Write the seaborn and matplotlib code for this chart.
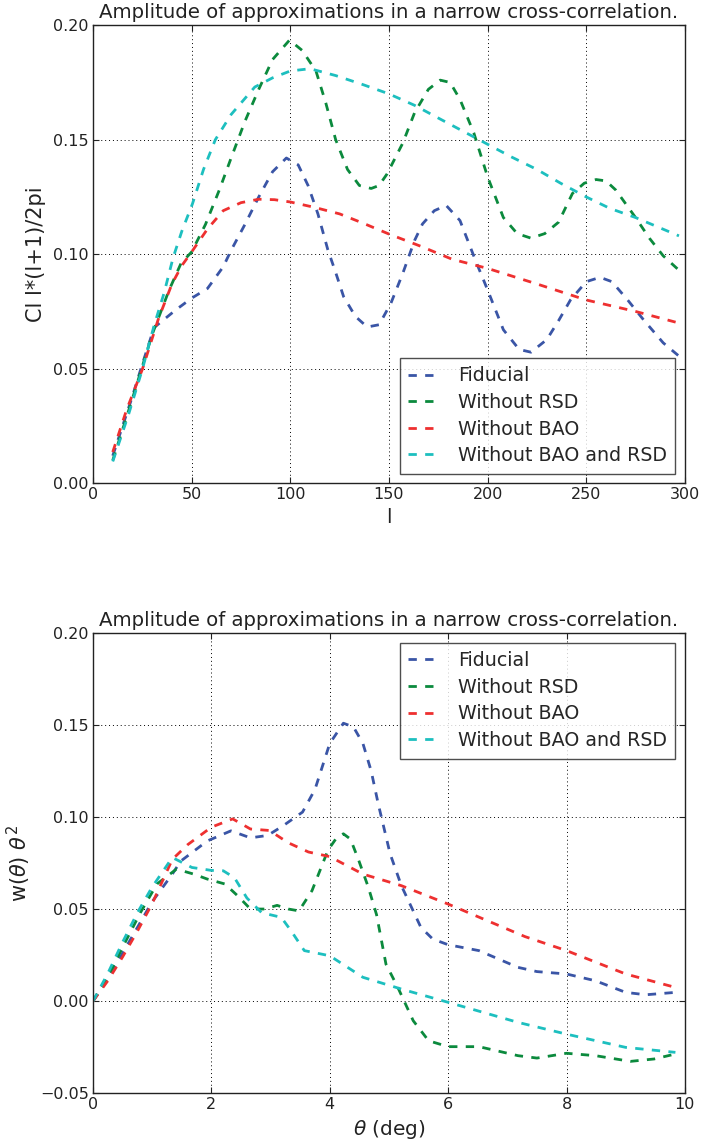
import numpy as np
import pandas as pd
import matplotlib
matplotlib.use("Agg")
import matplotlib.pyplot as plt
import seaborn as sns

# ---------------- data: angular power spectrum (top) ----------------
series_names = ["Fiducial", "Without RSD", "Without BAO", "Without BAO and RSD"]

ell_fid = [10, 20, 25, 31, 42, 50, 58, 66, 70, 77, 84, 91, 98, 104, 109, 114, 119, 123, 127,
           133, 139, 145, 151, 157, 163, 167, 173, 179, 186, 194, 200, 208, 216, 222, 230,
           236, 242, 250, 257, 263, 271, 279, 289, 297]
cl_fid = [0.012, 0.038, 0.052, 0.068, 0.0757, 0.0808, 0.085, 0.0945, 0.1017, 0.113, 0.125,
          0.136, 0.142, 0.139, 0.130, 0.1176, 0.102, 0.092, 0.0815, 0.0728, 0.0682, 0.0692,
          0.0786, 0.0916, 0.106, 0.1132, 0.119, 0.1213, 0.1147, 0.097, 0.0844, 0.067, 0.0584,
          0.0572, 0.0627, 0.071, 0.080, 0.088, 0.0899, 0.088, 0.080, 0.0714, 0.0613, 0.0555]

ell_norsd = [10, 20, 30, 38.6, 44.6, 50, 57, 64, 70, 77, 84, 91, 99.6, 106, 113, 118, 123,
             129, 135, 141, 145, 149, 157, 163, 170, 176, 181, 186, 193, 200, 208, 215, 222,
             229, 236, 243, 249, 255, 260, 265, 275, 282, 289, 297]
cl_norsd = [0.010, 0.037, 0.065, 0.0844, 0.096, 0.101, 0.113, 0.128, 0.142, 0.158, 0.172,
            0.185, 0.1935, 0.189, 0.180, 0.166, 0.150, 0.137, 0.130, 0.1287, 0.130, 0.135,
            0.1485, 0.1618, 0.172, 0.176, 0.175, 0.1676, 0.153, 0.1338, 0.116, 0.109, 0.107,
            0.109, 0.114, 0.1265, 0.131, 0.1326, 0.132, 0.128, 0.116, 0.107, 0.0993, 0.093]

ell_nobao = [10, 17, 25, 33, 40, 45, 50, 58, 66, 75, 84, 92, 100, 112, 125, 137, 150, 166,
             182, 200, 225, 250, 275, 298]
cl_nobao = [0.0136, 0.032, 0.0497, 0.0714, 0.087, 0.095, 0.101, 0.111, 0.119, 0.1225, 0.124,
            0.1238, 0.1228, 0.1205, 0.1176, 0.1135, 0.1088, 0.1035, 0.0978, 0.0938, 0.087,
            0.080, 0.075, 0.0697]

ell_nobaorsd = [10, 18, 25, 31, 36, 40.6, 45, 50.4, 56, 62, 70, 82, 91, 100, 110, 123, 137,
                150, 163, 176, 188, 200, 212, 225, 237, 250, 262, 275, 286, 297]
cl_nobaorsd = [0.0095, 0.030, 0.0497, 0.069, 0.083, 0.0985, 0.110, 0.122, 0.137, 0.150,
               0.161, 0.173, 0.177, 0.180, 0.181, 0.178, 0.174, 0.170, 0.165, 0.159, 0.1535,
               0.148, 0.1425, 0.137, 0.131, 0.125, 0.120, 0.116, 0.112, 0.108]

# ---------------- data: correlation function (bottom) ----------------
th_fid = [0, 0.25, 0.5, 0.75, 1.0, 1.34, 1.48, 1.93, 2.33, 2.66, 2.95, 3.2, 3.54, 3.75, 4.0,
          4.23, 4.4, 4.56, 4.7, 4.82, 5.02, 5.21, 5.54, 5.74, 6.0, 6.52, 7.18, 7.5, 8.0, 8.49,
          9.0, 9.34, 9.84]
w_fid = [0.0, 0.012, 0.026, 0.040, 0.054, 0.069, 0.076, 0.087, 0.0925, 0.0887, 0.090, 0.095,
         0.1027, 0.115, 0.140, 0.151, 0.149, 0.140, 0.125, 0.107, 0.080, 0.0627, 0.040,
         0.0337, 0.0306, 0.0274, 0.0183, 0.016, 0.0147, 0.011, 0.0047, 0.0034, 0.0047]

th_norsd = [0, 0.25, 0.56, 0.8, 1.08, 1.41, 1.7, 1.93, 2.23, 2.45, 2.66, 2.9, 3.11, 3.3, 3.48,
            3.7, 3.97, 4.1, 4.23, 4.35, 4.49, 4.65, 4.79, 4.95, 5.15, 5.41, 5.67, 6.0, 6.52,
            7.18, 7.5, 8.0, 8.49, 9.08, 9.48, 9.84]
w_norsd = [0, 0.013, 0.033, 0.048, 0.0636, 0.0717, 0.069, 0.0663, 0.0636, 0.057, 0.050,
           0.050, 0.052, 0.050, 0.049, 0.060, 0.082, 0.088, 0.0909, 0.088, 0.0764, 0.062,
           0.047, 0.020, 0.0074, -0.0107, -0.0216, -0.0248, -0.0248, -0.0297, -0.031,
           -0.0284, -0.0297, -0.0328, -0.0315, -0.0288]

th_nobao = [0, 0.25, 0.5, 0.75, 1.0, 1.34, 1.6, 2.0, 2.36, 2.66, 2.98, 3.3, 3.64, 4.0, 4.56,
            5.21, 6.0, 6.66, 7.3, 8.0, 9.0, 9.84]
w_nobao = [0, 0.011, 0.024, 0.038, 0.053, 0.077, 0.085, 0.0945, 0.099, 0.0935, 0.0927, 0.086,
           0.081, 0.0785, 0.069, 0.0627, 0.0527, 0.0437, 0.035, 0.0274, 0.0147, 0.0074]

th_nobaorsd = [0, 0.25, 0.5, 0.75, 1.0, 1.34, 1.67, 2.0, 2.2, 2.39, 2.6, 2.85, 3.18, 3.35,
               3.57, 4.0, 4.56, 5.21, 6.0, 7.18, 8.0, 9.0, 9.84]
w_nobaorsd = [0, 0.015, 0.032, 0.048, 0.062, 0.078, 0.0726, 0.071, 0.0708, 0.067, 0.056,
              0.048, 0.0455, 0.038, 0.0274, 0.0246, 0.0129, 0.0065, -0.0007, -0.0116, -0.018,
              -0.0252, -0.0279]

top_xticks = [0, 50, 100, 150, 200, 250, 300]
top_yticks = [0.00, 0.05, 0.10, 0.15, 0.20]
bot_xticks = [0, 2, 4, 6, 8, 10]
bot_yticks = [-0.05, 0.00, 0.05, 0.10, 0.15, 0.20]
title_text = "Amplitude of approximations in a narrow cross-correlation."

colors = ["#3a55a6", "#0b8a3d", "#ee3030", "#1dbfbf"]

top_df = pd.concat([
    pd.DataFrame({"x": ell_fid, "y": cl_fid, "series": series_names[0]}),
    pd.DataFrame({"x": ell_norsd, "y": cl_norsd, "series": series_names[1]}),
    pd.DataFrame({"x": ell_nobao, "y": cl_nobao, "series": series_names[2]}),
    pd.DataFrame({"x": ell_nobaorsd, "y": cl_nobaorsd, "series": series_names[3]}),
])
bot_df = pd.concat([
    pd.DataFrame({"x": th_fid, "y": w_fid, "series": series_names[0]}),
    pd.DataFrame({"x": th_norsd, "y": w_norsd, "series": series_names[1]}),
    pd.DataFrame({"x": th_nobao, "y": w_nobao, "series": series_names[2]}),
    pd.DataFrame({"x": th_nobaorsd, "y": w_nobaorsd, "series": series_names[3]}),
])

sns.set_style("ticks")
plt.rcParams["font.family"] = ["DejaVu Sans"]
plt.rcParams["mathtext.fontset"] = "dejavusans"

fig = plt.figure(figsize=(7.01, 11.45), dpi=100)
ax1 = fig.add_axes([0.1327, 0.578, 0.8443, 0.400])
ax2 = fig.add_axes([0.1327, 0.0454, 0.8443, 0.4017])


def style_axes(ax, xticks, yticks, xlim, ylim, xlabel, ylabel):
    ax.set_xlim(*xlim)
    ax.set_ylim(*ylim)
    ax.set_xticks(xticks)
    ax.set_yticks(yticks)
    ax.set_yticklabels([f"{v:.2f}".replace("-", "\u2212") for v in yticks])
    ax.set_xticklabels([str(v) for v in xticks])
    ax.grid(True, color="black", linestyle=(0, (1, 3)), linewidth=0.7)
    ax.tick_params(direction="in", top=True, right=True, length=4, width=0.8,
                   labelsize=11.5, colors="#222222", pad=3)
    for s in ax.spines.values():
        s.set_color("#222222")
        s.set_linewidth(1.0)
        s.set_visible(True)
    ax.set_xlabel(xlabel, fontsize=14.5, color="#222222")
    ax.set_ylabel(ylabel, fontsize=15, color="#222222", labelpad=5)
    ax.set_title(title_text, fontsize=14.2, color="#222222", pad=5)


for ax, df in [(ax1, top_df), (ax2, bot_df)]:
    sns.lineplot(data=df, x="x", y="y", hue="series", palette=colors, ax=ax,
                 linewidth=2.0, sort=False, estimator=None, legend=True)
    for ln in ax.get_lines():
        ln.set_linestyle((0, (3, 3)))

style_axes(ax1, top_xticks, top_yticks, (0, 300), (0, 0.20), "l", "Cl l*(l+1)/2pi")
style_axes(ax2, bot_xticks, bot_yticks, (0, 10), (-0.05, 0.20),
           r"$\theta$ (deg)", r"w($\theta$) $\theta^2$")

for ax, loc in [(ax1, "lower right"), (ax2, "upper right")]:
    leg = ax.legend(loc=loc, fontsize=13.7, frameon=True, fancybox=False,
                    handlelength=1.6, handletextpad=1.0, borderpad=0.45,
                    labelspacing=0.4, borderaxespad=0.5)
    leg.get_frame().set_edgecolor("#222222")
    leg.get_frame().set_linewidth(1.0)
    for h in leg.get_lines():
        h.set_linestyle((0, (3, 3)))
        h.set_linewidth(2.0)

fig.savefig("out.png", dpi=100)
